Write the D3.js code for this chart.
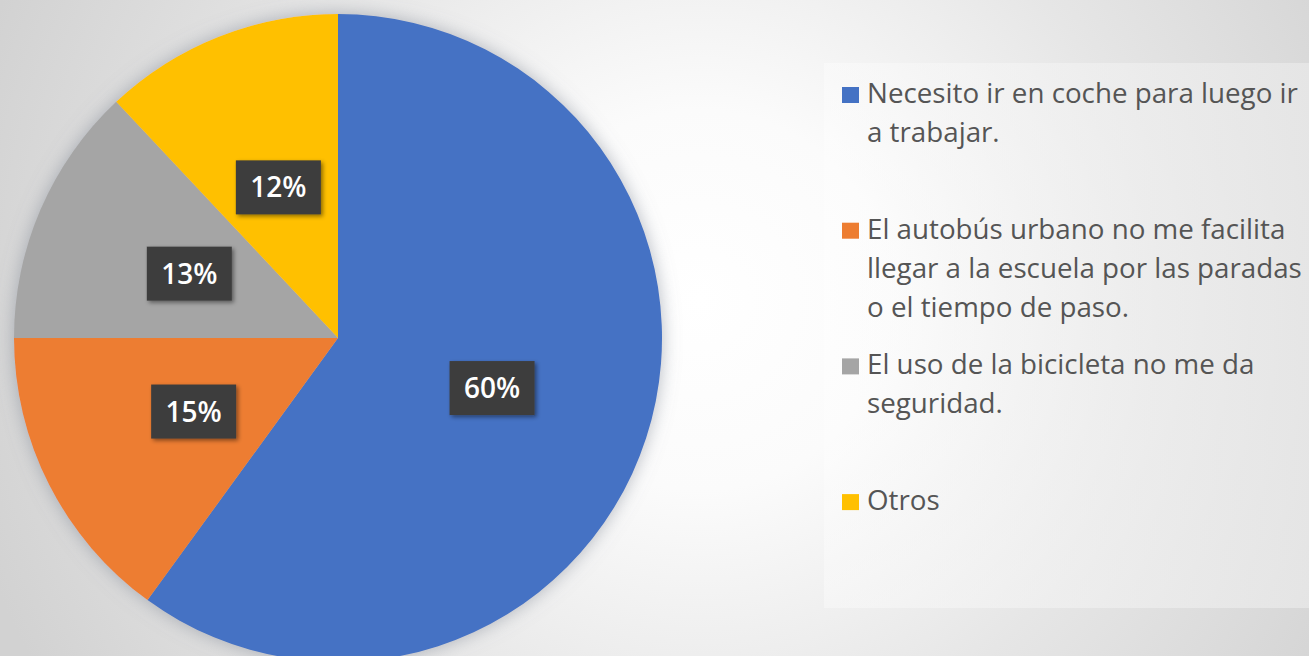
<!DOCTYPE html>
<html>
<head>
<meta charset="utf-8">
<script src="https://cdn.jsdelivr.net/npm/d3@7"></script>
<style>
  html, body { margin: 0; padding: 0; overflow: hidden; background: #e2e2e2; }
  svg { display: block; }
</style>
</head>
<body>
<svg id="chart" width="1309" height="656"></svg>
<script>
// ---- data ----
const categories = [
  "Necesito ir en coche para luego ir a trabajar.",
  "El autobús urbano no me facilita llegar a la escuela por las paradas o el tiempo de paso.",
  "El uso de la bicicleta no me da seguridad.",
  "Otros"
];
const values = [60, 15, 13, 12];
const percentLabels = ["60%", "15%", "13%", "12%"];
const legendLines = [
  ["Necesito ir en coche para luego ir", "a trabajar."],
  ["El autobús urbano no me facilita", "llegar a la escuela por las paradas", "o el tiempo de paso."],
  ["El uso de la bicicleta no me da", "seguridad."],
  ["Otros"]
];
const colors = ["#4472C4", "#ED7D31", "#A5A5A5", "#FFC000"];

// ---- layout ----
const W = 1309, H = 656;
const cx = 338, cy = 338, R = 324;
const FONT = "'Open Sans', Lato, sans-serif";
const svg = d3.select("#chart");
const defs = svg.append("defs");

// background radial gradient
const bg = defs.append("radialGradient").attr("id", "bg")
  .attr("gradientUnits", "userSpaceOnUse")
  .attr("cx", 700).attr("cy", 300).attr("r", 760);
bg.append("stop").attr("offset", 0).attr("stop-color", "#ffffff");
bg.append("stop").attr("offset", 0.25).attr("stop-color", "#fbfbfb");
bg.append("stop").attr("offset", 0.6).attr("stop-color", "#e6e6e6");
bg.append("stop").attr("offset", 1).attr("stop-color", "#d2d2d2");
svg.append("rect").attr("width", W).attr("height", H).attr("fill", "url(#bg)");

// legend panel (subtle)
const lp = defs.append("linearGradient").attr("id", "lp")
  .attr("x1", 0).attr("y1", 0).attr("x2", 1).attr("y2", 0);
lp.append("stop").attr("offset", 0).attr("stop-color", "#ffffff").attr("stop-opacity", 0.35);
lp.append("stop").attr("offset", 0.5).attr("stop-color", "#f3f3f3").attr("stop-opacity", 0.6);
lp.append("stop").attr("offset", 1).attr("stop-color", "#e8e8e8").attr("stop-opacity", 0.8);
svg.append("rect").attr("x", 824).attr("y", 63).attr("width", W - 824).attr("height", 545)
  .attr("fill", "url(#lp)");

// shadows
const sh = defs.append("filter").attr("id", "pieShadow")
  .attr("x", "-20%").attr("y", "-20%").attr("width", "140%").attr("height", "140%");
sh.append("feDropShadow").attr("dx", 0).attr("dy", 0).attr("stdDeviation", 9)
  .attr("flood-color", "#7a8290").attr("flood-opacity", 0.55);
const bs = defs.append("filter").attr("id", "boxShadow")
  .attr("x", "-30%").attr("y", "-30%").attr("width", "160%").attr("height", "160%");
bs.append("feDropShadow").attr("dx", 2).attr("dy", 2).attr("stdDeviation", 2)
  .attr("flood-color", "#000").attr("flood-opacity", 0.45);

// pie
const pie = d3.pie().sort(null).value(d => d);
const arcs = pie(values);
const arc = d3.arc().innerRadius(0).outerRadius(R);
const g = svg.append("g").attr("transform", `translate(${cx},${cy})`);
g.append("g").attr("filter", "url(#pieShadow)")
  .selectAll("path").data(arcs).join("path")
  .attr("d", arc)
  .attr("fill", (d, i) => colors[i]);

// data labels
const bw = 85, bh = 54;
const lbl = g.selectAll("g.lbl").data(arcs).join("g").attr("class", "lbl")
  .attr("transform", d => { const c = arc.centroid(d); return `translate(${c[0]},${c[1]})`; });
lbl.append("rect")
  .attr("x", -bw / 2).attr("y", -bh / 2).attr("width", bw).attr("height", bh)
  .attr("fill", "#3d3d3d").attr("filter", "url(#boxShadow)");
lbl.append("text")
  .attr("text-anchor", "middle").attr("dy", "0.36em")
  .attr("font-family", FONT).attr("font-size", 28).attr("font-weight", 600)
  .attr("fill", "#ffffff")
  .text((d, i) => percentLabels[i]);

// legend
const legendTop = 103, legendStep = 135.7, lineH = 39;
const leg = svg.append("g");
const items = leg.selectAll("g").data(categories).join("g")
  .attr("transform", (d, i) => `translate(842,${legendTop + i * legendStep})`);
items.append("rect").attr("x", 0).attr("y", -16).attr("width", 17).attr("height", 16)
  .attr("fill", (d, i) => colors[i]);
const texts = items.append("text")
  .attr("x", 25).attr("y", 0)
  .attr("font-family", FONT).attr("font-size", 24)
  .attr("fill", "#555555");
const spans = texts.selectAll("tspan").data((d, i) => legendLines[i]).join("tspan")
  .attr("x", 25).attr("y", (d, j) => j * lineH)
  .text(d => d);

// fit legend font so that the longest line spans like the reference (~435px)
let maxLen = 0;
spans.each(function () { maxLen = Math.max(maxLen, this.getComputedTextLength()); });
texts.attr("font-size", 24 * 435 / maxLen);
</script>
</body>
</html>
